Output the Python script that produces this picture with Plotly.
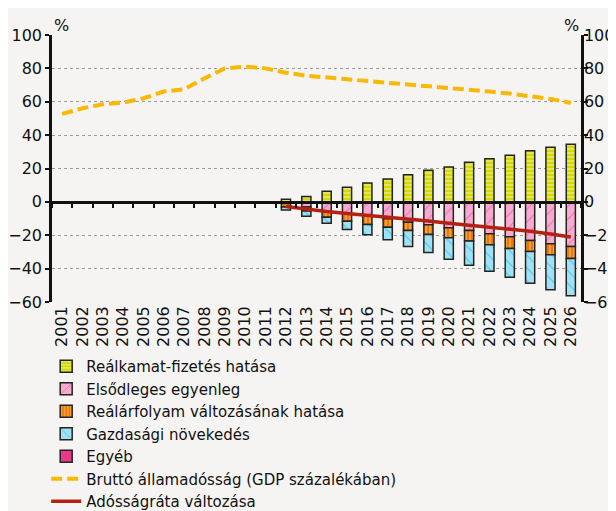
import plotly.graph_objects as go

years = [str(y) for y in range(2001, 2027)]

# Bar components (2001-2011 empty)
realkamat = [None]*11 + [1.5, 3.2, 6.3, 8.7, 11.3, 13.7, 16.3, 18.9, 20.9, 23.7, 25.9, 28.0, 30.6, 32.8, 34.6]
elsodleges = [None]*11 + [-1.0, -3.0, -5.8, -6.8, -8.2, -10.1, -12.2, -13.7, -15.5, -17.1, -19.1, -20.9, -23.1, -25.1, -26.7]
realarfolyam = [None]*11 + [-2.0, -2.4, -3.4, -4.8, -5.4, -5.1, -4.9, -5.8, -6.0, -6.4, -6.6, -7.0, -6.6, -6.6, -7.3]
gazdasagi = [None]*11 + [-1.8, -3.2, -3.6, -4.9, -6.1, -7.5, -9.6, -10.8, -12.9, -14.5, -15.9, -17.3, -19.1, -20.9, -22.3]
egyeb = [None]*26

brutto = [52.7, 56.1, 58.5, 59.5, 62.1, 66.1, 67.5, 74.1, 80.0, 81.0, 80.0, 77.4,
          75.6, 74.6, 73.4, 72.4, 71.6, 70.6, 69.5, 68.4, 67.4, 66.1, 64.9, 63.5, 61.7, 59.3]
adossagrata = [None]*11 + [-2.8, -4.5, -5.8, -7.0, -8.0, -9.2, -10.3, -11.5, -12.8, -14.0, -15.0, -16.1, -17.6, -19.2, -21.1]

FONT = "DejaVu Sans"
BG = "#f5f4f2"
outline = dict(color="#222222", width=1.5)
bw = 0.45

fig = go.Figure()
fig.add_trace(go.Bar(x=years, y=realkamat, name="Reálkamat-fizetés hatása", width=bw,
                     marker=dict(color="#d4db10", line=outline,
                                 pattern=dict(shape="-", bgcolor="#d2d900", fgcolor="#f3f6a8", size=4, solidity=0.5))))
fig.add_trace(go.Bar(x=years, y=elsodleges, name="Elsődleges egyenleg", width=bw,
                     marker=dict(color="#f7aacf", line=outline,
                                 pattern=dict(shape="/", bgcolor="#f7aacf", fgcolor="#e4358b", size=9, solidity=0.12))))
fig.add_trace(go.Bar(x=years, y=realarfolyam, name="Reálárfolyam változásának hatása", width=bw,
                     marker=dict(color="#f07800", line=outline,
                                 pattern=dict(shape="|", bgcolor="#f07800", fgcolor="#ffd7a6", size=4, solidity=0.4))))
fig.add_trace(go.Bar(x=years, y=gazdasagi, name="Gazdasági növekedés", width=bw,
                     marker=dict(color="#a0e2f4", line=outline,
                                 pattern=dict(shape="\\", bgcolor="#a0e2f4", fgcolor="#00a3d6", size=9, solidity=0.12))))
fig.add_trace(go.Bar(x=years, y=egyeb, name="Egyéb", width=bw,
                     marker=dict(color="#e8388a", line=outline)))
fig.add_trace(go.Scatter(x=years, y=brutto, name="Bruttó államadósság (GDP százalékában)", mode="lines",
                         line=dict(color="#fbb800", width=4, dash="11px,5px")))
fig.add_trace(go.Scatter(x=years, y=adossagrata, name="Adósságráta változása", mode="lines",
                         line=dict(color="#b52010", width=3.5)))
# helper trace to activate zero-line axis and right axis
fig.add_trace(go.Scatter(x=list(range(len(years))), y=[None]*len(years), xaxis="x2", yaxis="y2",
                         showlegend=False, hoverinfo="skip", mode="lines"))

fig.update_layout(
    width=616, height=511,
    paper_bgcolor=BG, plot_bgcolor=BG,
    margin=dict(l=44, r=43, t=27, b=217, autoexpand=False),
    barmode="relative",
    font=dict(family=FONT, size=16, color="#111111"),
    showlegend=True,
    legend=dict(x=-0.011, y=-0.18, xanchor="left", yanchor="top", bgcolor="rgba(0,0,0,0)",
                font=dict(size=15), traceorder="normal", itemwidth=30, tracegroupgap=0,
                maxheight=400),
    xaxis=dict(type="category", range=[-0.5, 25.5], tickangle=-90, ticks="", showline=False,
               showgrid=False, zeroline=False, tickfont=dict(size=16), automargin=False),
    xaxis2=dict(overlaying="x", anchor="free", position=0.375, range=[-0.5, 25.5],
                tickmode="linear", tick0=0.5, dtick=1, ticks="outside", ticklen=4, tickwidth=2,
                tickcolor="#111111", showline=True, linecolor="#111111", linewidth=2.5,
                showticklabels=False, showgrid=False, zeroline=False),
    yaxis=dict(range=[-60, 100], dtick=20, tick0=0, showgrid=True, gridcolor="#9a9a9a",
               griddash="dot", gridwidth=1, zeroline=False, showline=True, linecolor="#111111",
               linewidth=2.5, ticks="outside", ticklen=4, tickwidth=2, tickcolor="#111111",
               tickfont=dict(size=16), automargin=False),
    yaxis2=dict(overlaying="y", side="right", anchor="x", range=[-60, 100], dtick=20, tick0=0,
                showgrid=False, zeroline=False, showline=True, linecolor="#111111", linewidth=2.5,
                ticks="outside", ticklen=4, tickwidth=2, tickcolor="#111111", tickfont=dict(size=16),
                automargin=False, ticklabelstandoff=-7),
    annotations=[
        dict(text="%", xref="paper", yref="paper", x=0.0, y=1.0, xanchor="left", yanchor="bottom",
             showarrow=False, font=dict(size=16), yshift=-2),
        dict(text="%", xref="paper", yref="paper", x=1.0, y=1.0, xanchor="right", yanchor="bottom",
             showarrow=False, font=dict(size=16), yshift=-2),
    ],
)

fig.write_html("out.html")
